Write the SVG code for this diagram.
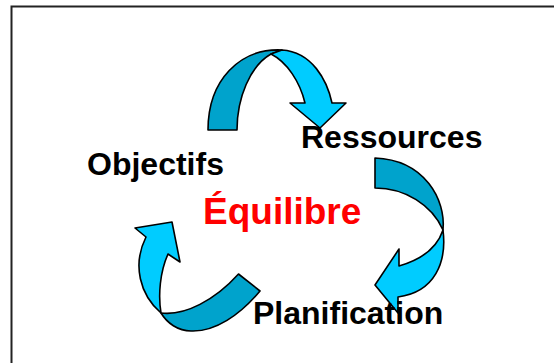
<svg xmlns="http://www.w3.org/2000/svg" width="554" height="363" viewBox="0 0 554 363">
<style>
.dark{fill:#00A3CC;stroke:#000;stroke-width:1.6;stroke-linejoin:round}
.light{fill:#00CCFF;stroke:#000;stroke-width:1.6;stroke-linejoin:round}
.lbl{font-family:"Liberation Sans",Arial,sans-serif;font-weight:bold;font-size:32px;fill:#000}
.ctr{font-family:"Liberation Sans",Arial,sans-serif;font-weight:bold;font-size:37px;fill:#FF0000}
</style>
<rect x="0" y="0" width="554" height="363" fill="#fff"/>
<rect x="11.5" y="6.5" width="560" height="380" fill="none" stroke="#222" stroke-width="2"/>
<g id="connectors">
<g id="arrow-top">
<path class="dark" d="M208,130 L237,130 C237,98 250,66 271,54 L282,50 C240,48 208,80 208,130 Z"/>
<path class="light" d="M271,54 C287,62 300,82 305,103 L290,103 L320,128 L346,103 L332,103 C327,80 312,52 282,50 Z"/>
</g>
<g id="arrow-right">
<path class="dark" d="M375,158 L375,188 C405,188 432,205 443,230 C446,200 425,160 375,158 Z"/>
<path class="light" d="M443,230 C447,262 435,292 398,297 L398,313 L375,285 L399,249 L399,266 C420,260 437,248 443,230 Z"/>
</g>
<g id="arrow-left">
<path class="dark" d="M238.5,274 L260,291 C240,315 215,332 191,331 C178,331 167,323 161,313 C185,316 215,300 238.5,274 Z"/>
<path class="light" d="M161,313 C140,295 132,265 146,237 L135,228 L172,222 L180,262 L168,254 C160,272 158,295 161,313 Z"/>
</g>
</g>
<g id="node-objectifs"><text class="lbl" x="87" y="175">Objectifs</text></g>
<g id="node-ressources"><text class="lbl" x="301" y="148">Ressources</text></g>
<g id="node-planification"><text class="lbl" x="253" y="324">Planification</text></g>
<g id="node-equilibre"><text class="ctr" x="203" y="224">Équilibre</text></g>
</svg>
